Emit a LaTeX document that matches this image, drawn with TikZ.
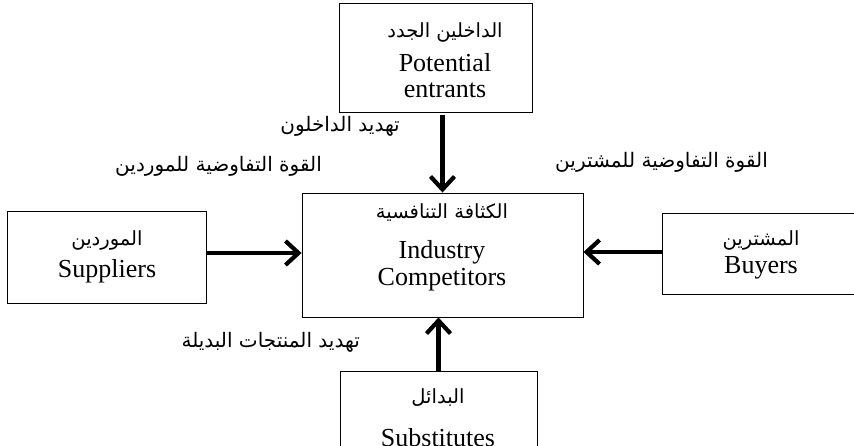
\documentclass[tikz,border=0pt]{standalone}
\usepackage{fontspec}
\setmainfont{Liberation Serif}
\newfontfamily\arabicfont[Script=Arabic]{DejaVu Sans}
\TeXXeTstate=1
\usetikzlibrary{arrows.meta,calc}
\tikzset{
  boxnode/.style={draw=black, line width=0.9pt, rectangle, inner sep=0pt},
  latin/.style={font=\fontsize{26}{28}\selectfont, inner sep=0pt},
  artitle/.style={font=\arabicfont\fontsize{19.5}{22}\selectfont, inner sep=0pt},
  arlabel/.style={font=\arabicfont\fontsize{20}{23}\selectfont, inner sep=0pt},
  forcearrow/.style={line width=4.2pt, -{Straight Barb[length=13pt,width=24pt]}}
}
\begin{document}
\begin{tikzpicture}[x=1pt,y=-1pt]
\useasboundingbox (0,0) rectangle (854,446);
\clip (0,0) rectangle (854,446);
\fill[white] (0,0) rectangle (854,446);
% boxes
\node[boxnode, minimum width=193pt, minimum height=109pt] (entr) at (435.5,57.5) {};
\node[boxnode, minimum width=281pt, minimum height=124pt] (comp) at (442.5,255) {};
\node[boxnode, minimum width=199pt, minimum height=92pt] (supp) at (106.5,257) {};
\node[boxnode, minimum width=194pt, minimum height=81pt] (buy) at (759,253.5) {};
\node[boxnode, minimum width=197pt, minimum height=110pt] (subs) at (438.5,426) {};
% texts in boxes
\node[artitle] (entrAr) at (445,32) {\beginR الداخلين الجدد\endR};
\node[latin] (entrL1) at (445,63) {Potential};
\node[latin] (entrL2) at (445,90) {entrants};
\node[artitle] (compAr) at (442,213) {\beginR الكثافة التنافسية\endR};
\node[latin] (compL1) at (442,252) {Industry};
\node[latin] (compL2) at (442,280) {Competitors};
\node[artitle] (suppAr) at (107,240) {\beginR الموردين\endR};
\node[latin] (suppL) at (107,271) {Suppliers};
\node[artitle] (buyAr) at (761,240) {\beginR المشترين\endR};
\node[latin] (buyL) at (761,268) {Buyers};
\node[artitle] (subsAr) at (438,398) {\beginR البدائل\endR};
\node[latin] (subsL) at (438,438) {Substitutes};
% labels
\node[arlabel, anchor=east] (lblEntr) at (400,126) {\beginR تهديد الداخلون\endR};
\node[arlabel, anchor=east] (lblSupp) at (322,166) {\beginR القوة التفاوضية للموردين\endR};
\node[arlabel, anchor=east] (lblBuy) at (768,162) {\beginR القوة التفاوضية للمشترين\endR};
\node[arlabel, anchor=east] (lblSubs) at (360,342) {\beginR تهديد المنتجات البديلة\endR};
% arrow end points
\coordinate (sA) at ($(supp.east)+(0,-4)$);
\coordinate (sB) at (sA -| comp.west);
\coordinate (bA) at ($(buy.west)+(0,-1.5)$);
\coordinate (bB) at (bA -| comp.east);
% arrows
\draw[forcearrow, shorten <=3pt] (entr.south -| comp.north) -- (comp.north);
\draw[forcearrow] (sA) -- (sB);
\draw[forcearrow] (bA) -- (bB);
\draw[forcearrow] (subs.north) -- (subs.north |- comp.south);
\end{tikzpicture}
\end{document}
